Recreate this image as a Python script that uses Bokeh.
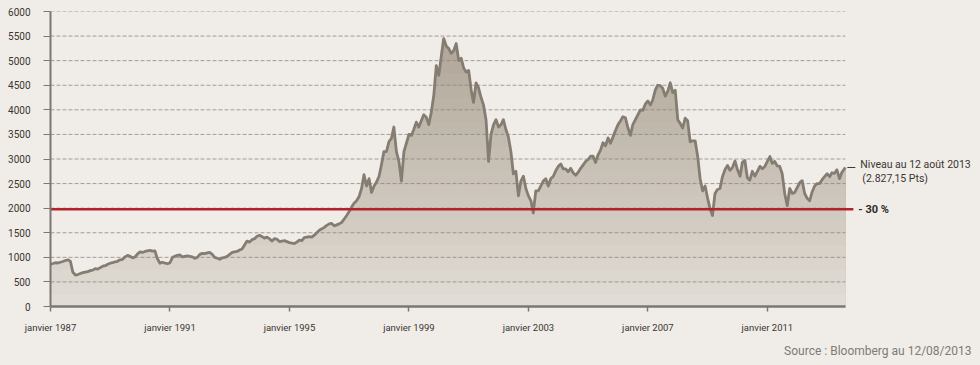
import numpy as np
import pandas as pd
from bokeh.plotting import figure
from bokeh.models import Range1d, FixedTicker, Label, Title
from bokeh.embed import file_html
from bokeh.resources import INLINE

# ---- data (monthly closes, Jan 1987 .. 12 Aug 2013) ----
monthly_close = [
    860, 875, 890, 885, 900, 915, 935, 950, 920, 700, 640, 650,            # 1987
    670, 690, 700, 710, 730, 740, 770, 760, 790, 820, 830, 860,            # 1988
    880, 890, 910, 920, 950, 960, 1010, 1040, 1020, 990, 1010, 1070,       # 1989
    1110, 1100, 1120, 1130, 1140, 1125, 1130, 970, 880, 900, 880, 870,     # 1990
    890, 1000, 1020, 1040, 1050, 1010, 1020, 1030, 1020, 1010, 980, 1000,  # 1991
    1060, 1080, 1075, 1090, 1100, 1060, 1000, 980, 960, 990, 1000, 1020,   # 1992
    1060, 1100, 1110, 1120, 1150, 1170, 1250, 1330, 1310, 1360, 1380, 1430,  # 1993
    1450, 1420, 1390, 1410, 1380, 1330, 1380, 1370, 1320, 1330, 1340, 1320,  # 1994
    1300, 1290, 1280, 1310, 1350, 1340, 1400, 1410, 1420, 1410, 1450, 1500,  # 1995
    1550, 1580, 1610, 1650, 1680, 1690, 1640, 1660, 1680, 1710, 1780, 1850,  # 1996
    1930, 2030, 2100, 2150, 2230, 2400, 2680, 2450, 2600, 2320, 2450, 2530,  # 1997
    2650, 2900, 3150, 3150, 3350, 3420, 3650, 3150, 2950, 2550, 3150, 3320,  # 1998
    3500, 3480, 3600, 3750, 3650, 3780, 3900, 3850, 3700, 3950, 4300, 4900,  # 1999
    4700, 5100, 5450, 5300, 5250, 5150, 5200, 5350, 5000, 5050, 4850, 4770,  # 2000
    4800, 4400, 4150, 4550, 4450, 4250, 4100, 3800, 2950, 3500, 3700, 3800,  # 2001
    3650, 3700, 3800, 3600, 3450, 3150, 2700, 2750, 2250, 2550, 2650, 2400,  # 2002
    2250, 2150, 1900, 2350, 2350, 2450, 2550, 2600, 2450, 2600, 2650, 2760,  # 2003
    2850, 2900, 2800, 2800, 2740, 2810, 2720, 2670, 2730, 2810, 2880, 2950,  # 2004
    2990, 3060, 3060, 2930, 3080, 3180, 3330, 3270, 3430, 3320, 3450, 3580,  # 2005
    3700, 3780, 3860, 3840, 3640, 3480, 3700, 3800, 3900, 4000, 3990, 4120,  # 2006
    4180, 4100, 4200, 4400, 4500, 4490, 4440, 4280, 4380, 4550, 4350, 4400,  # 2007
    3800, 3720, 3630, 3830, 3780, 3350, 3370, 3370, 3050, 2600, 2350, 2450,  # 2008
    2200, 1980, 1850, 2300, 2380, 2400, 2640, 2780, 2870, 2770, 2830, 2960,  # 2009
    2780, 2650, 2930, 2970, 2620, 2570, 2750, 2650, 2750, 2850, 2800, 2850,  # 2010
    2950, 3050, 2910, 2950, 2860, 2850, 2700, 2300, 2050, 2400, 2300, 2320,  # 2011
    2420, 2520, 2560, 2300, 2200, 2150, 2330, 2450, 2500, 2500, 2580, 2640,  # 2012
    2700, 2640, 2720, 2710, 2780, 2600, 2730, 2827.15,                       # 2013
]
first_month = "1987-01-01"
last_date = "2013-08-12"
tick_years = [1987, 1991, 1995, 1999, 2003, 2007, 2011]
tick_labels = ["janvier 1987", "janvier 1991", "janvier 1995", "janvier 1999",
               "janvier 2003", "janvier 2007", "janvier 2011"]
y_ticks = [0, 500, 1000, 1500, 2000, 2500, 3000, 3500, 4000, 4500, 5000, 5500, 6000]
drawdown = 0.30
level_text = "Niveau au 12 août 2013"
level_pts_text = "(2.827,15 Pts)"
drawdown_text = "- 30 %"
source_text = "Source : Bloomberg au 12/08/2013"

# ---- build x positions (decimal years) ----
dates = list(pd.date_range(first_month, periods=len(monthly_close) - 1, freq="MS")) + [pd.Timestamp(last_date)]


def dec_year(ts):
    return ts.year + (ts.dayofyear - 1) / (366 if ts.is_leap_year else 365)


x = np.array([dec_year(d) for d in dates])
v = np.array(monthly_close, dtype=float)
x_last, v_last = x[-1], v[-1]
red_level = v_last * (1 - drawdown)

BG = "#f0ede9"
W, H = 975, 365
B_LEFT, B_TOP, B_BOTTOM = 50, 11, 59
FRAME_W = W - B_LEFT
PX_PER_YEAR = 29.87
x_start = 1987.0
x_end = x_start + FRAME_W / PX_PER_YEAR
dx = 1.0 / PX_PER_YEAR  # data units per pixel

p = figure(width=W, height=H, title=None,
           x_range=Range1d(x_start, x_end), y_range=Range1d(0, 6000),
           output_backend="svg", toolbar_location=None,
           min_border_left=B_LEFT, min_border_right=0, min_border_top=B_TOP,
           min_border_bottom=B_BOTTOM,
           background_fill_color=BG, border_fill_color=BG, outline_line_color=None)
p.xgrid.visible = False
p.ygrid.visible = False

# ---- gradient-filled area (layered bands) ----
c_low = np.array([226, 221, 214])
c_high = np.array([170, 160, 145])
n_bands = 24
for k in range(n_bands, 0, -1):
    top = 6000 * k / n_bands
    t = (k - 0.5) / n_bands
    c = (c_low + (c_high - c_low) * t).round().astype(int)
    col = "#%02x%02x%02x" % tuple(c)
    p.varea(x=x, y1=np.zeros_like(v), y2=np.minimum(v, top), fill_color=col)

# ---- dashed grid lines ----
gy = y_ticks[1:]
p.segment(x0=[x_start] * len(gy), y0=gy, x1=[x_last] * len(gy), y1=gy,
          line_color="#8a8279", line_alpha=0.75, line_width=1, line_dash="4 2")

# ---- index line ----
p.line(x, v, line_color="#857c72", line_width=2.8, line_join="round")

# ---- -30 % line and end marker ----
p.segment(x0=[x_start], y0=[red_level], x1=[x_last + 8 * dx], y1=[red_level],
          line_color="#b3222e", line_width=2.5)
p.segment(x0=[x_last + 2 * dx], y0=[v_last], x1=[x_last + 10 * dx], y1=[v_last],
          line_color="#3d3833", line_width=1)

# ---- axes ----
AX = "#7d7770"
TXT = "#3b3530"
xa = p.xaxis[0]
xa.ticker = FixedTicker(ticks=tick_years)
xa.major_label_overrides = dict(zip(tick_years, tick_labels))
xa.bounds = (x_start, x_last)
xa.axis_line_color = AX
xa.axis_line_width = 2.5
xa.major_tick_line_color = AX
xa.major_tick_line_width = 1.5
xa.major_tick_in = 0
xa.major_tick_out = 5
xa.minor_tick_line_color = None
xa.major_label_text_font = "Roboto"
xa.major_label_text_font_size = "9.5px"
xa.major_label_text_color = TXT
xa.major_label_standoff = 10

ya = p.yaxis[0]
ya.ticker = FixedTicker(ticks=y_ticks)
ya.bounds = (0, 6000)
ya.axis_line_color = AX
ya.axis_line_width = 2
ya.major_tick_line_color = AX
ya.major_tick_line_width = 1
ya.major_tick_in = 0
ya.major_tick_out = 7
ya.minor_tick_line_color = None
ya.major_label_text_font = "Roboto"
ya.major_label_text_font_size = "10px"
ya.major_label_text_color = TXT
ya.major_label_standoff = 13

# ---- annotations ----
p.add_layout(Label(x=x_last, y=v_last, x_offset=15, y_offset=3, text=level_text,
                   text_font="Roboto", text_font_size="10.5px", text_color="#3a3531",
                   text_baseline="middle"))
p.add_layout(Label(x=x_last, y=v_last, x_offset=17, y_offset=-11, text=level_pts_text,
                   text_font="Roboto", text_font_size="10.5px", text_color="#3a3531",
                   text_baseline="middle"))
p.add_layout(Label(x=x_last, y=red_level, x_offset=13, y_offset=0, text=drawdown_text,
                   text_font="Roboto", text_font_size="11px", text_font_style="bold",
                   text_color="#2f2a26", text_baseline="middle"))
p.add_layout(Title(text=source_text, align="right", text_font="Roboto",
                   text_font_size="12px", text_font_style="normal",
                   text_color="#7f7a73", standoff=12, offset=4), "below")

html = file_html(p, INLINE)
html = html.replace("</head>", "<style>html, body { background: %s; }</style></head>" % BG, 1)
open("out.html", "w").write(html)
